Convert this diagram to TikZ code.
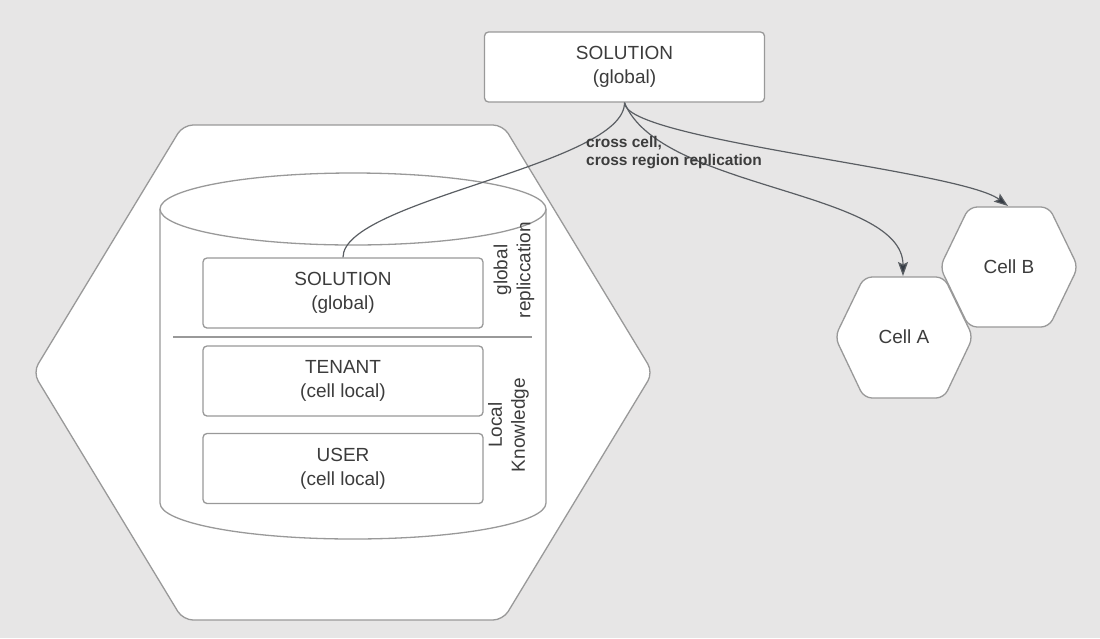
\documentclass[tikz,border=0pt]{standalone}
\usepackage{fontspec}
\setmainfont{Liberation Sans}
\usetikzlibrary{arrows.meta}
\definecolor{bg}{HTML}{E7E6E6}
\definecolor{shapecol}{HTML}{999999}
\definecolor{conncol}{HTML}{5A5E63}
\definecolor{txt}{HTML}{3C3C3C}
\definecolor{tipcol}{HTML}{353B44}
\begin{document}
\begin{tikzpicture}[x=1pt,y=-1pt,
  shapeline/.style={draw=shapecol, line width=1.3pt, fill=white},
  box/.style={shapeline, rounded corners=4pt, minimum width=280pt, minimum height=70pt,
    align=center, text=txt, font=\fontsize{19}{24}\selectfont, inner sep=0pt},
  lbl/.style={text=txt, font=\fontsize{19}{23}\selectfont, align=center, inner sep=0pt},
  conn/.style={draw=conncol, line width=1.2pt},
  arr/.style={conn, -{Stealth[length=14pt, width=10pt, inset=2.5pt, fill=tipcol]}}
]
\useasboundingbox (0,0) rectangle (1100,638);
\fill[bg] (0,0) rectangle (1100,638);

% big cell hexagon
\draw[shapeline, rounded corners=10pt] (183,125) -- (503,125) -- (653,372.5) -- (503,620) -- (183,620) -- (33,372.5) -- cycle;

% cylinder
\draw[shapeline] (160,209) -- (160,503)
  .. controls (160,522.9) and (246.4,539) .. (353,539)
  .. controls (459.6,539) and (546,522.9) .. (546,503) -- (546,209);
\draw[shapeline] (353,209) ellipse [x radius=193, y radius=36];

% inner boxes
\node[box] (sol) at (343,293) {SOLUTION\\(global)};
\node[box] (ten) at (343,381) {TENANT\\(cell local)};
\node[box] (usr) at (343,468.5) {USER\\(cell local)};
\draw[draw=shapecol, line width=1.3pt] (173,337) -- (532,337);

\node[lbl, rotate=90] (glob) at (514,270) {global\\repliccation};
\node[lbl, rotate=90] (loc) at (508.5,425) {Local\\Knowledge};

% small cells
\draw[shapeline, rounded corners=8pt] (940,267) -- (969,207) -- (1049,207) -- (1078,267) -- (1049,327) -- (969,327) -- cycle;
\draw[shapeline, rounded corners=8pt] (835,337) -- (864,277) -- (944,277) -- (973,337) -- (944,398) -- (864,398) -- cycle;
\node[lbl] (cellB) at (1009,267) {Cell B};
\node[lbl] (cellA) at (904,337) {Cell A};
\coordinate (cellAtop) at (903,276);
\coordinate (cellBtop) at (1008,206);

% top solution node
\node[box] (top) at (624.5,67) {SOLUTION\\(global)};

% connectors
\draw[conn] (sol.north) .. controls (343,200) and (625,165) .. (top.south);
\draw[arr] (top.south) .. controls (660,190) and (903,190) .. (cellAtop);
\draw[arr] (top.south) .. controls (624,140) and (960,170) .. (cellBtop);

\node[anchor=north west, align=left, inner sep=0pt, text=txt,
  font=\bfseries\fontsize{15.5}{18}\selectfont] (repl) at (586,136.5)
  {cross cell,\\cross region replication};
\end{tikzpicture}
\end{document}
